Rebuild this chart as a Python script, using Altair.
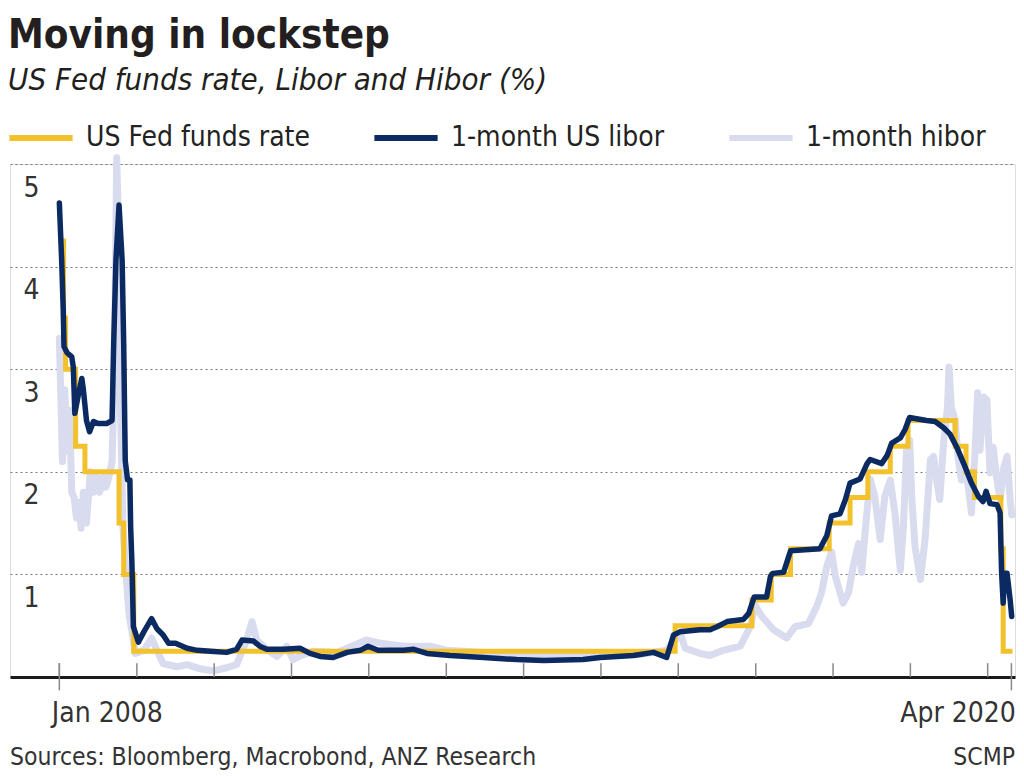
import altair as alt
import pandas as pd

FONT = "DejaVu Sans Condensed, Liberation Sans Narrow, sans-serif"

SERIES = ["US Fed funds rate", "1-month US libor", "1-month hibor"]
COLORS = ["#f3c12b", "#0c2a62", "#d9dbee"]

# US Fed funds rate (upper bound of target), step changes (decimal years)
fed_years = [2008.00, 2008.055, 2008.08, 2008.21, 2008.33, 2008.77, 2008.83, 2008.96,
             2015.96, 2016.95, 2017.20, 2017.45, 2017.95, 2018.22, 2018.45, 2018.74,
             2018.97, 2019.58, 2019.72, 2019.83, 2020.17, 2020.20, 2020.32]
fed_values = [4.25, 3.50, 3.00, 2.25, 2.00, 1.50, 1.00, 0.25,
              0.50, 0.75, 1.00, 1.25, 1.50, 1.75, 2.00, 2.25,
              2.50, 2.25, 2.00, 1.75, 1.25, 0.25, 0.25]

# 1-month US libor
libor_years = [2008.00, 2008.03, 2008.05, 2008.06, 2008.10, 2008.16, 2008.18, 2008.20, 2008.25, 2008.29,
               2008.31, 2008.35, 2008.39, 2008.44, 2008.50, 2008.61, 2008.68, 2008.70, 2008.73, 2008.77,
               2008.81, 2008.83, 2008.85, 2008.88, 2008.91, 2008.92, 2008.935, 2008.955, 2009.02, 2009.09,
               2009.19, 2009.26, 2009.34, 2009.41, 2009.50, 2009.65, 2009.78, 2009.95, 2010.16, 2010.29,
               2010.36, 2010.51, 2010.59, 2010.68, 2010.90, 2011.11, 2011.24, 2011.37, 2011.54, 2011.72,
               2011.89, 2011.99, 2012.12, 2012.45, 2012.58, 2012.75, 2013.05, 2013.48, 2013.91, 2014.26,
               2014.77, 2014.99, 2015.42, 2015.68, 2015.85, 2015.94, 2016.02, 2016.28, 2016.41, 2016.50,
               2016.63, 2016.84, 2016.91, 2016.98, 2017.14, 2017.19, 2017.22, 2017.36, 2017.45, 2017.83,
               2017.92, 2017.98, 2018.09, 2018.16, 2018.22, 2018.35, 2018.44, 2018.48, 2018.63, 2018.70,
               2018.76, 2018.87, 2018.93, 2018.99, 2019.06, 2019.21, 2019.32, 2019.43, 2019.51, 2019.60,
               2019.69, 2019.79, 2019.88, 2019.94, 2019.98, 2020.03, 2020.12, 2020.16, 2020.18, 2020.20,
               2020.22, 2020.25, 2020.29, 2020.31]
libor_values = [4.62, 4.06, 3.58, 3.22, 3.16, 3.12, 3.02, 2.57, 2.77, 2.91,
                2.80, 2.50, 2.39, 2.49, 2.47, 2.47, 2.50, 3.22, 4.06, 4.60,
                4.06, 3.25, 2.11, 1.92, 1.92, 1.46, 1.14, 0.49, 0.34, 0.44,
                0.57, 0.47, 0.41, 0.33, 0.33, 0.28, 0.26, 0.25, 0.24, 0.27,
                0.36, 0.35, 0.30, 0.27, 0.27, 0.28, 0.23, 0.20, 0.19, 0.24,
                0.26, 0.30, 0.26, 0.26, 0.27, 0.23, 0.21, 0.19, 0.17, 0.16,
                0.17, 0.19, 0.21, 0.24, 0.19, 0.41, 0.44, 0.46, 0.46, 0.49,
                0.54, 0.56, 0.62, 0.78, 0.78, 0.98, 1.01, 1.02, 1.23, 1.25,
                1.38, 1.57, 1.59, 1.73, 1.89, 1.93, 2.08, 2.12, 2.08, 2.16,
                2.28, 2.33, 2.41, 2.53, 2.52, 2.50, 2.49, 2.43, 2.37, 2.24,
                2.08, 1.89, 1.76, 1.71, 1.81, 1.69, 1.68, 1.60, 1.01, 0.72,
                1.01, 1.01, 0.75, 0.59]

# 1-month hibor
hibor_years = [2008.00, 2008.02, 2008.04, 2008.07, 2008.10, 2008.13, 2008.16, 2008.19, 2008.22, 2008.25,
               2008.28, 2008.31, 2008.35, 2008.40, 2008.44, 2008.48, 2008.52, 2008.56, 2008.60, 2008.64,
               2008.68, 2008.71, 2008.74, 2008.77, 2008.79, 2008.82, 2008.86, 2008.90, 2008.94, 2008.98,
               2009.09, 2009.19, 2009.26, 2009.34, 2009.52, 2009.65, 2009.82, 2009.99, 2010.16, 2010.29,
               2010.42, 2010.49, 2010.55, 2010.68, 2010.81, 2010.94, 2011.02, 2011.13, 2011.28, 2011.59,
               2011.97, 2012.15, 2012.45, 2012.79, 2013.01, 2013.50, 2014.00, 2014.50, 2015.00, 2015.50,
               2015.85, 2016.03, 2016.09, 2016.28, 2016.41, 2016.58, 2016.80, 2016.93, 2016.99, 2017.08,
               2017.23, 2017.40, 2017.51, 2017.68, 2017.79, 2017.85, 2017.92, 2017.98, 2018.03, 2018.13,
               2018.20, 2018.26, 2018.33, 2018.37, 2018.42, 2018.48, 2018.54, 2018.61, 2018.67, 2018.74,
               2018.80, 2018.87, 2018.91, 2018.95, 2018.99, 2019.02, 2019.06, 2019.13, 2019.19, 2019.26,
               2019.30, 2019.34, 2019.38, 2019.43, 2019.48, 2019.50, 2019.53, 2019.58, 2019.62, 2019.66,
               2019.71, 2019.75, 2019.79, 2019.84, 2019.87, 2019.90, 2019.95, 2019.99, 2020.03, 2020.07,
               2020.12, 2020.16, 2020.21, 2020.25, 2020.29, 2020.31]
hibor_values = [3.30, 2.70, 2.10, 2.80, 2.20, 2.60, 1.80, 1.75, 1.55, 1.70,
                1.45, 1.80, 1.50, 2.00, 1.80, 1.95, 1.80, 1.95, 1.85, 1.95,
                2.10, 3.00, 5.06, 4.20, 2.60, 1.46, 1.00, 0.60, 0.43, 0.23,
                0.26, 0.38, 0.26, 0.13, 0.10, 0.12, 0.08, 0.06, 0.09, 0.12,
                0.36, 0.54, 0.36, 0.27, 0.20, 0.30, 0.17, 0.21, 0.25, 0.24,
                0.36, 0.33, 0.30, 0.30, 0.26, 0.24, 0.22, 0.22, 0.24, 0.22,
                0.26, 0.42, 0.28, 0.23, 0.21, 0.26, 0.30, 0.49, 0.70, 0.59,
                0.46, 0.38, 0.49, 0.52, 0.69, 0.82, 1.08, 1.22, 0.98, 0.72,
                0.82, 1.08, 1.30, 1.02, 1.46, 1.93, 1.76, 1.34, 1.76, 1.92,
                1.60, 1.04, 1.46, 2.21, 2.31, 1.73, 1.27, 0.95, 1.34, 2.12,
                2.15, 1.92, 1.73, 2.28, 2.63, 3.02, 2.63, 2.50, 2.12, 1.92,
                2.02, 1.85, 1.60, 2.24, 2.77, 2.21, 2.73, 2.70, 1.99, 2.24,
                1.92, 1.73, 2.05, 2.15, 1.73, 1.58]

# x-axis ticks: each January plus the last data month
tick_dates = [f"{y}-01-01" for y in range(2008, 2021)]
end_tick_dates = ["2008-01-01", "2020-04-22"]
label_dates = ["2008-01-01", "2020-04-22"]
y_ticks = [1, 2, 3, 4, 5]


def to_date(y):
    yr = int(y)
    start = pd.Timestamp(yr, 1, 1)
    end = pd.Timestamp(yr + 1, 1, 1)
    return start + (end - start) * (y - yr)


def frame(years, values, name):
    return pd.DataFrame({"date": [to_date(y) for y in years], "value": values, "series": name})


fed_df = frame(fed_years, fed_values, SERIES[0])
libor_df = frame(libor_years, libor_values, SERIES[1])
hibor_df = frame(hibor_years, hibor_values, SERIES[2])

x_scale = alt.Scale(domain=[alt.DateTime(year=2007, month=5, date=13),
                            alt.DateTime(year=2020, month=5, date=9)])
y_scale = alt.Scale(domain=[0, 5], nice=False, zero=True)

first_label = "year(datum.value) < 2010"
x_axis = alt.Axis(
    values=[alt.DateTime(year=int(d[:4]), month=int(d[5:7]), date=int(d[8:10])) for d in label_dates],
    format="%b %Y", ticks=False, grid=False,
    labelAlign={"condition": {"test": first_label, "value": "left"}, "value": "right"},
    labelOffset={"condition": {"test": first_label, "value": -8}, "value": 4},
    domain=True, domainColor="#1a1a1a", domainWidth=3,
    labelFont=FONT, labelFontSize=28, labelColor="#333333", labelPadding=22, title=None,
)
y_axis = alt.Axis(
    values=y_ticks, format="d", grid=True, gridDash=[2, 3], gridColor="#777777", gridWidth=1,
    domain=False, ticks=False, labelAlign="left", labelPadding=-13, labelOffset=24,
    labelBaseline="middle", labelFont=FONT, labelFontSize=28, labelColor="#333333", title=None,
)

color = alt.Color(
    "series:N",
    scale=alt.Scale(domain=SERIES, range=COLORS),
    legend=alt.Legend(
        orient="none", legendX=-4, legendY=-61, direction="horizontal", title=None,
        symbolType="stroke", symbolSize=4000, symbolStrokeWidth=6,
        labelFont=FONT, labelFontSize=28, labelColor="#222222", labelLimit=500,
        columnPadding=52, labelOffset=10,
    ),
)

X = alt.X("date:T", scale=x_scale, axis=x_axis)
Y = alt.Y("value:Q", scale=y_scale, axis=y_axis)

hibor = alt.Chart(hibor_df).mark_line(strokeWidth=7, strokeCap="round", strokeJoin="round").encode(
    x=X, y=Y, color=color)
fed = alt.Chart(fed_df).mark_line(strokeWidth=5, interpolate="step-after").encode(
    x=X, y=Y, color=color)
libor = alt.Chart(libor_df).mark_line(strokeWidth=5.5, strokeCap="round", strokeJoin="round").encode(
    x=X, y=Y, color=color)

ticks_small = alt.Chart(pd.DataFrame({"date": pd.to_datetime(tick_dates)})).mark_rule(
    color="#888888", strokeWidth=1.5).encode(x=alt.X("date:T", scale=x_scale), y=alt.datum(0), y2=alt.datum(0.135))
ticks_end = alt.Chart(pd.DataFrame({"date": pd.to_datetime(end_tick_dates)})).mark_rule(
    color="#888888", strokeWidth=1.5).encode(x=alt.X("date:T", scale=x_scale), y=alt.datum(-0.13), y2=alt.datum(0.135))

source = alt.Chart(pd.DataFrame({"t": ["Sources: Bloomberg, Macrobond, ANZ Research"]})).mark_text(
    align="left", baseline="middle", font=FONT, fontSize=24.5, color="#333333").encode(
    text="t:N", x=alt.value(0), y=alt.value(594))
credit = alt.Chart(pd.DataFrame({"t": ["SCMP"]})).mark_text(
    align="right", baseline="middle", font=FONT, fontSize=24.5, color="#333333").encode(
    text="t:N", x=alt.value(1005), y=alt.value(594))

chart = alt.layer(hibor, fed, libor, ticks_small, ticks_end, source, credit).properties(
    width=1005, height=513,
    autosize=alt.AutoSizeParams(type="none"),
    padding={"left": 2, "top": 156, "right": 1, "bottom": 93},
    title=alt.TitleParams(
        text="Moving in lockstep", subtitle="US Fed funds rate, Libor and Hibor (%)",
        anchor="start", font=FONT, fontSize=40, fontWeight="bold", color="#231f20",
        subtitleFont=FONT, subtitleFontSize=31, subtitleFontStyle="italic", subtitleColor="#231f20",
        offset=7, subtitlePadding=10, dx=2,
    ),
).configure_view(stroke=None).configure(background="white")

chart.save("out.html", embed_options={"renderer": "svg", "actions": False})
